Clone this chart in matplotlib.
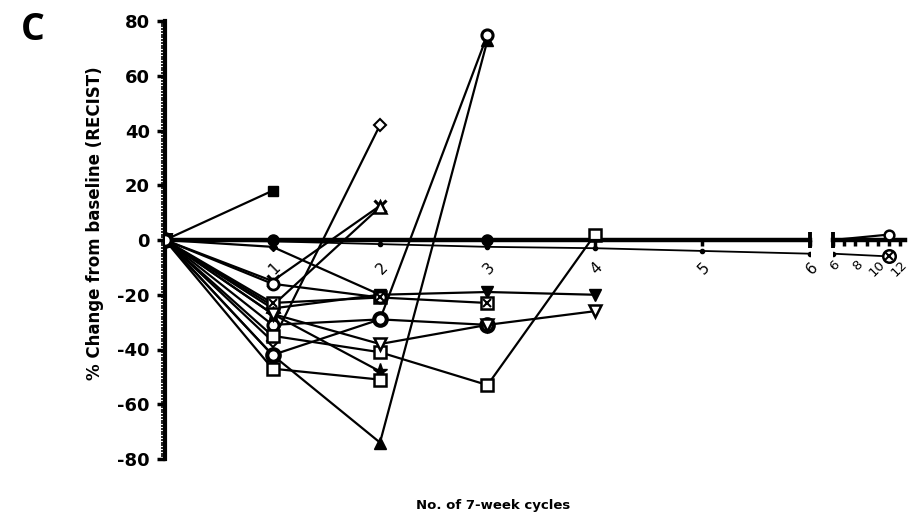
import matplotlib
matplotlib.use("Agg")
import matplotlib.pyplot as plt
from matplotlib.ticker import MultipleLocator, FixedLocator

# ---------------- data (cycle number, % change from baseline) ----------------
p01_cycles = [0, 1];                      p01_values = [0, 18]
p02_cycles = [0, 1, 3];                   p02_values = [0, 0, 0]
p03_cycles = [0, 1, 2, 3, 4, 5, 6, 11];   p03_values = [0, -0.5, -1.5, -2.5, -3, -4, -5, -6]
p04_cycles = [0, 1, 2];                   p04_values = [0, -2.5, -20]
p05_cycles = [0, 1, 2];                   p05_values = [0, -15, 12.5]
p06_cycles = [0, 1, 2];                   p06_values = [0, -24, 12]
p07_cycles = [0, 1, 2];                   p07_values = [0, -37, 42]
p08_cycles = [0, 1, 2, 3];                p08_values = [0, -42, -74, 73]
p09_cycles = [0, 1, 2, 3];                p09_values = [0, -31, -29, 75]
p10_cycles = [0, 1, 2, 3, 4];             p10_values = [0, -25, -20, -19, -20]
p11_cycles = [0, 1, 2, 3];                p11_values = [0, -23, -21, -23]
p12_cycles = [0, 1, 2];                   p12_values = [0, -27, -48]
p13_cycles = [0, 1, 2];                   p13_values = [0, -47, -51]
p14_cycles = [0, 1, 2, 3, 4];             p14_values = [0, -35, -41, -53, 2]
p15_cycles = [0, 1, 2, 3];                p15_values = [0, -42, -29, -31]
p16_cycles = [0, 1, 2, 3, 4];             p16_values = [0, -27, -38, -31, -26]
p17_cycles = [0, 6, 11];                  p17_values = [0, 0, 2]
p18_cycles = [0, 1, 2];                   p18_values = [0, -16, -21]

y_ticks = [-80, -60, -40, -20, 0, 20, 40, 60, 80]
x_ticks_main = [1, 2, 3, 4, 5, 6]
x_ticks_tail = [6, 8, 10, 12]
x_label = "No. of 7-week cycles"
y_label = "% Change from baseline (RECIST)"
panel = "C"

# ---------------- styles ----------------
F = dict(mfc="black", mec="black")
H = dict(mfc="white", mec="black")
patients = [
    (p01_cycles, p01_values, dict(marker="s", ms=7, **F), None),
    (p02_cycles, p02_values, dict(marker="o", ms=8, **F), None),
    (p03_cycles, p03_values, dict(marker="o", ms=3, lw=1.3, **F), ("o", "x", 9)),
    (p04_cycles, p04_values, dict(marker="D", ms=4, **F), None),
    (p05_cycles, p05_values, dict(marker="x", ms=9, mew=2.2, mec="black"), None),
    (p06_cycles, p06_values, dict(marker="^", ms=8, mew=1.8, **H), None),
    (p07_cycles, p07_values, dict(marker="D", ms=6, mew=1.5, **H), None),
    (p08_cycles, p08_values, dict(marker="^", ms=8, **F), None),
    (p09_cycles, p09_values, dict(marker="o", ms=8, mew=2.2, **H), None),
    (p10_cycles, p10_values, dict(marker="v", ms=8, **F), None),
    (p11_cycles, p11_values, dict(marker="s", ms=8, mew=1.8, **H), ("s", "x", 6)),
    (p12_cycles, p12_values, dict(marker="*", ms=11, **F), None),
    (p13_cycles, p13_values, dict(marker="s", ms=8, mew=1.8, **H), None),
    (p14_cycles, p14_values, dict(marker="s", ms=8, mew=1.8, **H), None),
    (p15_cycles, p15_values, dict(marker="o", ms=9, mew=3.0, **H), None),
    (p16_cycles, p16_values, dict(marker="v", ms=8, mew=1.8, **H), None),
    (p17_cycles, p17_values, dict(marker="o", ms=7, mew=1.8, markevery=[2], **H), None),
    (p18_cycles, p18_values, dict(marker="o", ms=8, mew=2.0, **H), None),
]

W, Hpx = 912, 519
fig = plt.figure(figsize=(W / 100, Hpx / 100), dpi=100)
fig.patch.set_facecolor("white")

top_px, bot_px = 21, 459
ax = fig.add_axes([165 / W, 1 - bot_px / Hpx, (810 - 165) / W, (bot_px - top_px) / Hpx])
ax2 = fig.add_axes([833 / W, 1 - bot_px / Hpx, 72 / W, (bot_px - top_px) / Hpx])

for a in (ax, ax2):
    for c, v, st, ov in patients:
        kw = dict(st)
        lw = kw.pop("lw", 1.6)
        if ov is not None and ov[0] == "o" and len(c) > 2:
            a.plot(c, v, color="black", lw=lw, zorder=3, **kw)
            a.plot(c[-1:], v[-1:], ls="none", marker="o", ms=ov[2], mfc="white",
                   mec="black", mew=1.8, zorder=4)
            a.plot(c[-1:], v[-1:], ls="none", marker="x", ms=ov[2] * 0.6,
                   mec="black", mew=1.5, zorder=5)
        else:
            a.plot(c, v, color="black", lw=lw, zorder=3, **kw)
            if ov is not None:
                a.plot(c[1:], v[1:], ls="none", marker=ov[1], ms=ov[2],
                       mec="black", mew=1.5, zorder=5)
    a.set_ylim(-80, 80)
    a.set_facecolor("none")
    a.spines["top"].set_visible(False)
    a.spines["right"].set_visible(False)
    a.spines["bottom"].set_position(("data", 0))
    a.spines["bottom"].set_linewidth(3.2)
    a.spines["bottom"].set_zorder(2)

ax.set_xlim(0, 6)
ax2.set_xlim(6, 12.4)

# main axis
ax.spines["left"].set_linewidth(3.0)
ax.yaxis.set_major_locator(FixedLocator(y_ticks))
ax.yaxis.set_minor_locator(MultipleLocator(1))
ax.set_yticklabels([str(t) for t in y_ticks], fontsize=13, fontweight="bold",
                   family="DejaVu Sans")
ax.tick_params(axis="y", which="major", length=6, width=2.5, pad=5)
ax.tick_params(axis="y", which="minor", length=3, width=1.2)
ax.set_xticks(x_ticks_main)
ax.set_xticklabels([str(t) for t in x_ticks_main], fontsize=11, rotation=45,
                   ha="right", va="top", rotation_mode="anchor")
ax.tick_params(axis="x", which="major", length=4, width=2.5, pad=10)

# tail axis
ax2.spines["left"].set_visible(False)
ax2.set_yticks([])
ax2.set_xticks(x_ticks_tail)
ax2.xaxis.set_minor_locator(FixedLocator([7, 9, 11]))
ax2.set_xticklabels([str(t) for t in x_ticks_tail], fontsize=9.5, rotation=45,
                    ha="right", va="top", rotation_mode="anchor")
ax2.tick_params(axis="x", which="both", length=4, width=2.5, pad=9)

# end caps of the broken axis
for a in (ax, ax2):
    a.plot([6], [0], ls="none", marker="|", ms=12, mew=2.8, color="black",
           clip_on=False, zorder=6)

fig.text(95 / W, 1 - 223 / Hpx, y_label, rotation=90, ha="center", va="center",
         fontsize=12, fontweight="bold", family="DejaVu Sans")
fig.text(493 / W, 1 - 505 / Hpx, x_label, ha="center", va="center",
         fontsize=9.5, fontweight="bold", family="DejaVu Sans")
fig.text(33 / W, 1 - 30 / Hpx, panel, ha="center", va="center",
         fontsize=27, fontweight="bold", family="Open Sans")

fig.savefig("out.png", dpi=100, facecolor="white")
